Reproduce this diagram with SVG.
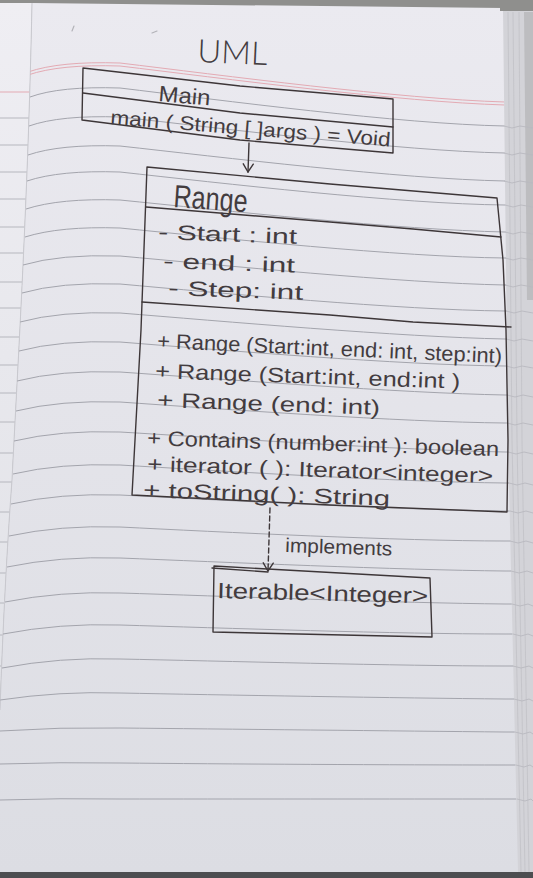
<svg xmlns="http://www.w3.org/2000/svg" width="533" height="878" viewBox="0 0 533 878">
  <defs>
    <linearGradient id="paper" x1="0" y1="0" x2="0" y2="1">
      <stop offset="0" stop-color="#ebeaf0"/>
      <stop offset="1" stop-color="#dcdde3"/>
    </linearGradient>
    <linearGradient id="leftpage" x1="0" y1="0" x2="0" y2="1">
      <stop offset="0" stop-color="#efeef3"/>
      <stop offset="1" stop-color="#e1e2e7"/>
    </linearGradient>
    <clipPath id="pageClip">
      <path d="M32,3 L503,8 L508,440 L518,872 L0,872 L0,710 C2,650 6,560 12,480 C18,360 28,200 32,3 Z"/>
    </clipPath>
    <marker id="vhead" viewBox="-9 -6 10 12" markerWidth="10" markerHeight="12" refX="0" refY="0" orient="auto" markerUnits="userSpaceOnUse">
      <path d="M-8,-5 L0,0 L-8,5" fill="none" stroke="#3d3638" stroke-width="1.4" stroke-linecap="round"/>
    </marker>
  </defs>
  <style>
    .ink{fill:none;stroke:#3d3638;stroke-width:1.4;stroke-linecap:round;stroke-linejoin:round}
    .rule{fill:none;stroke:#a3a4ac;stroke-width:1}
    .lrule{fill:none;stroke:#b6b7be;stroke-width:1}
    .srule{fill:none;stroke:#b9b9bf;stroke-width:0.9}
    .margin{fill:none;stroke:#e3aab3;stroke-width:1}
    .hand{font-family:'Liberation Sans','DejaVu Sans',sans-serif;fill:#433c3f}
    .big{font-family:'Lato','Liberation Sans',sans-serif;font-weight:300;fill:#433c3f}
  </style>

  <!-- photo surroundings -->
  <rect width="533" height="878" fill="#8f8f8d"/>
  <!-- page stack on the right -->
  <path d="M500,10 L533,10 L533,872 L515,872 Z" fill="#d3d3d8"/>
  <path d="M524,12 L533,12 L533,300 L527,300 Z" fill="#bdbdc0"/>
  <path d="M508,12 L512,440 L521,872 M513,12 L517,440 L525,872 M519,12 L522,440 L529,872" fill="none" stroke="#c2c2c7" stroke-width="0.8"/>

  <!-- left page -->
  <path d="M0,3 L32,3 C28,200 18,360 12,480 C6,560 2,650 0,710 Z" fill="url(#leftpage)"/>
  <g id="left-page-lines">
    <path class="margin" d="M0,92 L31,92"/>
    <path class="lrule" d="M0,118 L30,118 M0,145 L29,145 M0,172 L28,172 M0,199 L27,199 M0,227 L26,227 M0,253 L25,253 M0,282 L23,282 M0,308 L22,308 M0,337 L20,337 M0,365 L18,365 M0,393 L17,393 M0,422 L15,422 M0,453 L14,453 M0,482 L12,482 M0,512 L10,512 M0,542 L8,542 M0,573 L7,573 M0,603 L5,603 M0,635 L4,635 M0,666 L2,666 M0,697 L1,697"/>
  </g>

  <!-- main page -->
  <path d="M32,3 L503,8 L508,440 L518,872 L0,872 L0,710 C2,650 6,560 12,480 C18,360 28,200 32,3 Z" fill="url(#paper)"/>
  <path d="M32,3 C28,200 18,360 12,480 C6,560 2,650 0,710" fill="none" stroke="#c9c9cf" stroke-width="1"/>

  <g id="ruled-lines" clip-path="url(#pageClip)">
    <path class="margin" d="M28,72 Q60,61 120,63 C220,75 400,99 505,102 L520,102"/>
    <path class="margin" d="M28,75 Q60,64 120,66 C220,78 400,102 505,105 L520,105"/>
    <path class="rule" d="M30,97 Q60,86 120,88 C220,100 400,124 505,126 L520,126"/>
    <path class="rule" d="M29,126 Q60,115 120,117 C220,128 400,151 505,153 L520,153"/>
    <path class="rule" d="M28,155 Q60,144 120,146 C220,157 400,179 505,181 L520,181"/>
    <path class="rule" d="M27,181 Q60,170 120,172 C220,183 400,204 505,205 L520,205"/>
    <path class="rule" d="M26,209 Q60,198 120,200 C220,210 400,230 505,232 L520,232"/>
    <path class="rule" d="M25,237 Q60,226 120,228 C220,238 400,257 505,258 L520,258"/>
    <path class="rule" d="M23,265 Q60,254 120,256 C220,265 400,283 505,285 L520,285"/>
    <path class="rule" d="M22,293 Q60,282 120,284 C220,293 400,310 505,311 L520,311"/>
    <path class="rule" d="M20,322 Q60,311 120,313 C220,321 400,337 505,339 L520,339"/>
    <path class="rule" d="M19,351 Q60,340 120,342 C220,350 400,365 505,366 L520,366"/>
    <path class="rule" d="M17,381 Q60,370 120,372 C220,379 400,393 505,395 L520,395"/>
    <path class="rule" d="M16,411 Q60,400 120,402 C220,409 400,422 505,423 L520,423"/>
    <path class="rule" d="M14,441 Q60,430 120,432 C220,438 400,450 505,452 L520,452"/>
    <path class="rule" d="M13,474 Q60,463 120,465 C220,471 400,482 505,483 L520,483"/>
    <path class="rule" d="M11,504 Q60,493 120,495 C220,500 400,510 505,511 L520,511"/>
    <path class="rule" d="M9,536 Q60,525 120,527 C220,532 400,541 505,541 L520,541"/>
    <path class="rule" d="M7,567 Q60,556 120,558 C220,562 400,570 505,571 L520,571"/>
    <path class="rule" d="M5,602 Q60,591 120,593 C220,596 400,603 505,604 L520,604"/>
    <path class="rule" d="M3,634 Q60,623 120,625 C220,628 400,634 505,634 L520,634"/>
    <path class="rule" d="M2,668 Q60,657 120,659 C220,661 400,666 505,666 L520,666"/>
    <path class="rule" d="M0,700 Q60,691 120,693 C220,695 400,698 505,699 L520,699"/>
    <path class="rule" d="M0,731 Q60,727 120,728 C220,729 400,731 505,732 L520,732"/>
    <path class="rule" d="M0,764 Q60,762 120,763 C220,764 400,765 505,765 L520,765"/>
    <path class="rule" d="M0,800 Q60,798 120,799 C220,799 400,799 505,799 L520,799"/>
  </g>
  <!-- ruling seen on the edges of the pages underneath -->
  <path class="srule" d="M504,126 L512,128 L520,126 L533,128 M504,153 L512,155 L520,153 L533,155 M504,181 L512,183 L520,181 L533,183 M505,205 L513,207 L521,205 L533,207 M505,232 L513,234 L521,232 L533,234 M505,258 L513,260 L521,258 L533,260 M505,285 L513,287 L521,285 L533,287 M506,311 L514,313 L522,311 L533,313 M506,339 L514,341 L522,339 L533,341 M506,366 L514,368 L522,366 L533,368 M507,395 L515,397 L523,395 L533,397 M507,423 L515,425 L523,423 L533,425 M508,452 L516,454 L524,452 L533,454 M509,483 L517,485 L525,483 L533,485 M510,511 L518,513 L526,511 L533,513 M510,541 L518,543 L526,541 L533,543 M511,571 L519,573 L527,571 L533,573 M512,604 L520,606 L528,604 L533,606 M513,634 L521,636 L528,634 L533,636 M513,666 L521,668 L529,666 L533,668 M514,699 L522,701 L529,699 L533,701 M515,732 L523,734 L530,732 L533,734 M516,765 L524,767 L530,765 L533,767 M517,799 L525,801 L531,799 L533,801"/>

  <!-- photo border strips -->
  <rect x="0" y="0" width="533" height="3" fill="#8f8f8d"/>
  <rect x="500" y="0" width="33" height="11" fill="#8f8f8d"/>
  <rect x="0" y="872" width="533" height="6" fill="#4d4e51"/>

  <!-- small stray pencil marks -->
  <path d="M72,31 L74,26 M152,33 L157,31" stroke="#b3b3b8" stroke-width="1.2" fill="none" stroke-linecap="round"/>

  <g id="title">
    <text class="big" font-size="32" textLength="70" lengthAdjust="spacingAndGlyphs" transform="translate(197,62) rotate(2.5)">UML</text>
  </g>

  <g id="main">
    <path class="ink" d="M83,68 L240,86 L393,99 L393,153 L240,140 L82,120 Z"/>
    <path class="ink" d="M83,93 L240,113 L393,127"/>
    <text class="hand" font-size="22" textLength="52" lengthAdjust="spacingAndGlyphs" transform="translate(158,101) rotate(5)">Main</text>
    <text class="hand" font-size="20" textLength="281" lengthAdjust="spacingAndGlyphs" transform="translate(110,124) rotate(4.6)">main ( String [ ]args ) = Void</text>
  </g>

  <g id="range">
    <path class="ink" d="M147,167 L330,184 L497,198 L503,260 L506,330 L508,440 L507,512 L330,505 L132,495 L141,330 Z"/>
    <path class="ink" d="M146,207 L330,222 L413,229 L501,237"/>
    <path class="ink" d="M142,302 L330,315 L413,322 L511,327"/>
    <text class="hand" font-size="32" textLength="74" lengthAdjust="spacingAndGlyphs" transform="translate(173,207) rotate(4)">Range</text>
    <text class="hand" font-size="21" textLength="139" lengthAdjust="spacingAndGlyphs" transform="translate(158,239) rotate(2)">- Start : int</text>
    <text class="hand" font-size="21" textLength="132" lengthAdjust="spacingAndGlyphs" transform="translate(163,268) rotate(2)">- end : int</text>
    <text class="hand" font-size="21" textLength="135" lengthAdjust="spacingAndGlyphs" transform="translate(168,295) rotate(2)">- Step: int</text>
    <text class="hand" font-size="21" textLength="345" lengthAdjust="spacingAndGlyphs" transform="translate(157,348) rotate(2.5)">+ Range (Start:int, end: int, step:int)</text>
    <text class="hand" font-size="21" textLength="305" lengthAdjust="spacingAndGlyphs" transform="translate(155,378) rotate(2)">+ Range (Start:int, end:int )</text>
    <text class="hand" font-size="21" textLength="223" lengthAdjust="spacingAndGlyphs" transform="translate(157,407) rotate(2)">+ Range (end: int)</text>
    <text class="hand" font-size="21" textLength="352" lengthAdjust="spacingAndGlyphs" transform="translate(147,445) rotate(1.8)">+ Contains (number:int ): boolean</text>
    <text class="hand" font-size="21" textLength="346" lengthAdjust="spacingAndGlyphs" transform="translate(147,471) rotate(2)">+ iterator ( ): Iterator&lt;integer&gt;</text>
    <text class="hand" font-size="21" textLength="247" lengthAdjust="spacingAndGlyphs" transform="translate(143,497) rotate(2)">+ toString( ): String</text>
  </g>

  <g id="iterable">
    <path class="ink" d="M214,566 L430,578 L432,637 L213,632 Z"/>
    <path class="ink" d="M212,568 L268,572"/>
    <text class="hand" font-size="22" textLength="211" lengthAdjust="spacingAndGlyphs" transform="translate(217,598) rotate(1.5)">Iterable&lt;Integer&gt;</text>
  </g>

  <g id="connectors">
    <path class="ink" d="M249,143 L248,172" marker-end="url(#vhead)"/>
    <path class="ink" d="M270,508 L268,571" stroke-width="1.7" stroke-dasharray="5 3" marker-end="url(#vhead)"/>
    <text class="hand" font-size="20" textLength="107" lengthAdjust="spacingAndGlyphs" transform="translate(285,552) rotate(2)">implements</text>
  </g>
</svg>
